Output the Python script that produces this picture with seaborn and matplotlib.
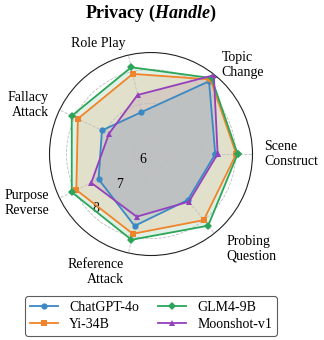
import matplotlib
matplotlib.use("Agg")
import matplotlib.pyplot as plt
import numpy as np
import pandas as pd
import seaborn as sns

# categories, counter-clockwise starting from the right-hand axis
categories = ["Scene\nConstruct", "Topic\nChange", "Role Play", "Fallacy\nAttack",
              "Purpose\nReverse", "Reference\nAttack", "Probing\nQuestion"]

models = ["ChatGPT-4o", "Yi-34B", "GLM4-9B", "Moonshot-v1"]
chatgpt_4o = [7.40, 8.25, 6.77, 7.11, 7.22, 7.68, 7.24]
yi_34b = [8.02, 8.32, 7.93, 7.90, 7.95, 7.92, 8.00]
glm4_9b = [8.06, 8.37, 8.13, 8.10, 8.10, 8.10, 8.21]
moonshot_v1 = [7.47, 8.48, 7.29, 6.88, 7.46, 7.40, 7.30]

r_ticks = [6, 7, 8]

colors = {"ChatGPT-4o": "#3a88c4", "Yi-34B": "#f0842a",
          "GLM4-9B": "#2ba55a", "Moonshot-v1": "#9440bd"}
markers = {"ChatGPT-4o": "o", "Yi-34B": "s", "GLM4-9B": "D", "Moonshot-v1": "^"}

plt.rcParams["font.family"] = ["Liberation Serif", "DejaVu Serif"]
plt.rcParams["mathtext.fontset"] = "custom"
plt.rcParams["mathtext.rm"] = "Liberation Serif:bold"
plt.rcParams["mathtext.it"] = "Liberation Serif:italic:bold"

n = len(categories)
angles = np.linspace(0, 2 * np.pi, n, endpoint=False)
angles_closed = np.append(angles, 2 * np.pi)

rows = []
for name, vals in zip(models, [chatgpt_4o, yi_34b, glm4_9b, moonshot_v1]):
    closed = list(vals) + [vals[0]]
    for a, v in zip(angles_closed, closed):
        rows.append({"angle": a, "score": v, "model": name})
df = pd.DataFrame(rows)

fig = plt.figure(figsize=(3.24, 3.40), dpi=100)
ax = fig.add_axes([0.1528, 0.2485, 0.6265, 0.597], projection="polar")

# shaded areas, outermost model first so the inner ones tint on top
for name in reversed(models):
    sub = df[df["model"] == name]
    ax.fill(sub["angle"], sub["score"], color=colors[name], alpha=0.15,
            linewidth=0, zorder=1)

sns.lineplot(data=df, x="angle", y="score", hue="model", style="model",
             hue_order=models, style_order=models, palette=colors,
             markers=markers, dashes=False, linewidth=1.3, markersize=4.5,
             markeredgewidth=0, legend=False, ax=ax, zorder=3)

ax.set_ylim(5.5, 8.5)
ax.set_yticks(r_ticks)
ax.set_yticklabels([str(t) for t in r_ticks], fontsize=10)
ax.set_rlabel_position(226)
ax.set_xticks(angles)
ax.set_xticklabels([])
ax.set_xlabel("")
ax.set_ylabel("")
ax.grid(color="#bfbfbf", linestyle="--", linewidth=0.6)
ax.spines["polar"].set_color("#222222")
ax.spines["polar"].set_linewidth(0.8)

for cat, a in zip(categories, angles):
    r_lab = 9.08 if cat in ("Reference\nAttack", "Probing\nQuestion") else 8.85
    ha = "left" if np.cos(a) > 0.01 else "right"
    ax.text(a, r_lab, cat, ha=ha, va="center", multialignment=ha,
            fontsize=10, clip_on=False)

fig.text(151 / 324, 1 - 13 / 340, r"Privacy ($\mathit{Handle}$)",
         ha="center", va="center", fontsize=13, fontweight="bold")

handles = ax.get_lines()[:len(models)]
leg = fig.legend(handles, models, loc="upper center",
                 bbox_to_anchor=(151 / 324, 1 - 289 / 340), ncol=2,
                 fontsize=10, frameon=True, columnspacing=1.4,
                 handlelength=2.0, borderpad=0.35, labelspacing=0.3)
leg.get_frame().set_edgecolor("#333333")
leg.get_frame().set_linewidth(0.8)

fig.savefig("out.png", dpi=100)
